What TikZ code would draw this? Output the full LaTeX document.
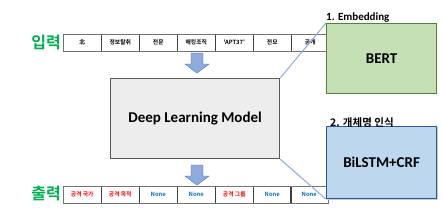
\documentclass[tikz,border=0pt]{standalone}
\usepackage{fontspec}
\setmainfont{Carlito}
\newfontfamily\kr{Noto Sans CJK KR}
\newfontfamily\krb{Noto Sans CJK KR Bold}
\usetikzlibrary{positioning}
\definecolor{lblgreen}{HTML}{00B050}
\definecolor{bertfill}{HTML}{C5E0B4}
\definecolor{bertdraw}{HTML}{548235}
\definecolor{lstmfill}{HTML}{BDD7EE}
\definecolor{lstmdraw}{HTML}{2F5597}
\definecolor{dlmfill}{HTML}{EDEDED}
\definecolor{dlmdraw}{HTML}{595959}
\definecolor{connblue}{HTML}{8FAADC}
\definecolor{arrfill}{HTML}{8FAADC}
\definecolor{arrdraw}{HTML}{4472C4}
\definecolor{redtxt}{HTML}{FF0000}
\definecolor{bluetxt}{HTML}{0070C0}
\tikzset{
  cell/.style={draw=black!75, line width=0.5pt, minimum width=38pt, minimum height=17pt, inner sep=0pt, anchor=north west, font=\krb\fontsize{5.8}{6}\selectfont},
  rowframe/.style={draw=black!55, line width=1pt},
  bigbox/.style={line width=1.2pt, inner sep=0pt, font=\bfseries\fontsize{15}{17}\selectfont},
  conn/.style={draw=connblue, line width=1pt},
  rowlbl/.style={font=\krb\fontsize{16}{18}\selectfont, text=lblgreen, inner sep=0pt},
  boxlbl/.style={font=\bfseries\fontsize{11}{13}\selectfont, inner sep=0pt, anchor=south west},
  blockarrow/.style={fill=arrfill, draw=arrdraw, line width=0.4pt}
}
\begin{document}
\begin{tikzpicture}[x=1pt,y=-1pt]
\useasboundingbox (0,0) rectangle (443,223);
% input row
\node[cell] (i1) at (63,34) {北};
\node[cell] (i2) at (101,34) {정보탈취};
\node[cell] (i3) at (139,34) {전문};
\node[cell] (i4) at (177,34) {해킹조직};
\node[cell] (i5) at (215,34) {'APT37'};
\node[cell] (i6) at (253,34) {전모};
\node[cell] (i7) at (291,34) {공개};
\draw[rowframe] (i1.north west) rectangle (i7.south east);
\node[rowlbl, anchor=east] (inlbl) at (61,43) {입력};
% output row
\node[cell, text=redtxt] (o1) at (63,186) {공격 국가};
\node[cell, text=redtxt] (o2) at (101,186) {공격 목적};
\node[cell, text=bluetxt] (o3) at (139,186) {None};
\node[cell, text=bluetxt] (o4) at (177,186) {None};
\node[cell, text=redtxt] (o5) at (215,186) {공격 그룹};
\node[cell, text=bluetxt] (o6) at (253,186) {None};
\node[cell, text=bluetxt] (o7) at (290,186) {None};
\draw[rowframe] (o1.north west) rectangle (o7.south east);
\node[rowlbl, anchor=east] (outlbl) at (61,194) {출력};
% model box
\node[bigbox, draw=dlmdraw, fill=dlmfill, minimum width=169pt, minimum height=80pt, anchor=north west] (dlm) at (110,78) {Deep Learning Model};
% BERT
\node[bigbox, draw=bertdraw, fill=bertfill, minimum width=110pt, minimum height=70pt, anchor=north west] (bert) at (326,23) {BERT};
\node[boxlbl] (bertlbl) at (bert.north west) {1. Embedding};
% BiLSTM
\fill[black!20] (327,127) rectangle (437.5,199.5);
\node[bigbox, draw=lstmdraw, fill=lstmfill, minimum width=110pt, minimum height=72pt, anchor=north west] (lstm) at (326,126) {BiLSTM+CRF};
\node[boxlbl, font=\krb\fontsize{10.5}{12}\selectfont, anchor=south west] (lstmlbl) at ([xshift=4pt,yshift=-2pt]lstm.north west) {2. 개체명 인식};
% connectors
\draw[conn] (dlm.north east) -- (bert.north west);
\draw[conn] (dlm.south east) -- (lstm.south west);
% block arrows
\draw[blockarrow] (191,53) -- (203,53) -- (203,64) -- (209,64) -- (197,73) -- (185,64) -- (191,64) -- cycle;
\draw[blockarrow] (191,165) -- (203,165) -- (203,176) -- (209,176) -- (197,185) -- (185,176) -- (191,176) -- cycle;
\end{tikzpicture}
\end{document}
